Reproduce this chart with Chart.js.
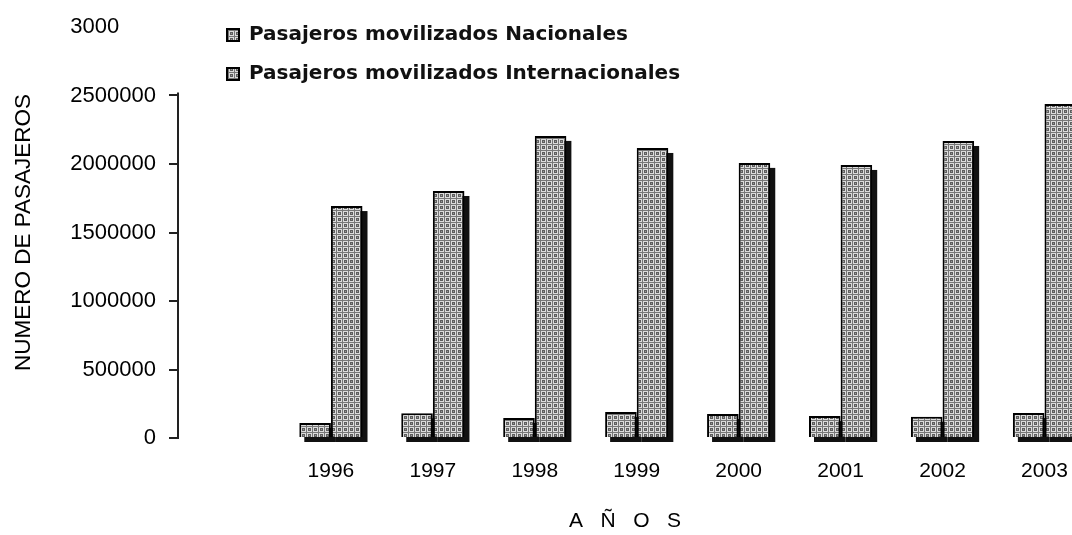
<!DOCTYPE html>
<html><head><meta charset="utf-8">
<script src="https://cdn.jsdelivr.net/npm/chart.js@4.4.0/dist/chart.umd.min.js"></script>
<style>html,body{margin:0;padding:0;background:#fff;} #wrap{width:1072px;height:535px;position:relative;}</style>
</head><body><div id="wrap"><canvas id="c"></canvas></div>
<script>
const categories = ['1996','1997','1998','1999','2000','2001','2002','2003'];
const nacionales = [110000, 180000, 146000, 190000, 175000, 160000, 155000, 182000];
const internacionales = [1693000, 1803000, 2205000, 2117000, 2008000, 1993000, 2168000, 2438000];
const yTicks = [0, 500000, 1000000, 1500000, 2000000, 2500000, 3000000];
const seriesNames = ['Pasajeros movilizados Nacionales', 'Pasajeros movilizados Internacionales'];
const yTitle = 'NUMERO DE PASAJEROS';
const xTitle = 'A   Ñ   O   S';

const canvas = document.getElementById('c');
const ctx0 = canvas.getContext('2d');
function makePattern() {
  const t = document.createElement('canvas'); t.width = 6; t.height = 6;
  const g = t.getContext('2d');
  g.fillStyle = '#777777'; g.fillRect(0, 0, 6, 6);
  g.fillStyle = '#dcdcdc'; g.fillRect(1, 1, 5, 5);
  g.fillStyle = '#5e5e5e'; g.fillRect(2, 2, 3, 3);
  g.fillStyle = '#9a9a9a'; g.fillRect(3, 3, 1, 1);
  return ctx0.createPattern(t, 'repeat');
}
const pat = makePattern();

const barShadow = {
  id: 'barShadow',
  beforeDatasetsDraw(chart) {
    const ctx = chart.ctx; ctx.save(); ctx.fillStyle = '#111';
    chart.data.datasets.forEach((ds, i) => {
      chart.getDatasetMeta(i).data.forEach(el => {
        const p = el.getProps(['x', 'y', 'base', 'width'], true);
        ctx.fillRect(p.x - p.width / 2 + 5, p.y + 5, p.width, p.base - p.y);
      });
    });
    ctx.restore();
  }
};
const yAxisLine = {
  id: 'yAxisLine',
  afterDatasetsDraw(chart) {
    const s = chart.scales.y, ctx = chart.ctx;
    ctx.save(); ctx.strokeStyle = '#222'; ctx.lineWidth = 2;
    ctx.beginPath();
    ctx.moveTo(chart.chartArea.left, s.getPixelForValue(0) + 1);
    ctx.lineTo(chart.chartArea.left, s.getPixelForValue(2500000) - 3);
    ctx.stroke(); ctx.restore();
  }
};
const legendShift = {
  id: 'legendShift',
  afterLayout(chart) {
    const lg = chart.legend; if (!lg) return;
    const ca = chart.chartArea;
    lg.left = ca.left + 30; lg.right = ca.right;
    lg.top = ca.top - 21;
  }
};

new Chart(canvas, {
  type: 'bar',
  data: {
    datasets: [
      { label: seriesNames[0], data: categories.map((c, i) => ({x: Number(c), y: nacionales[i]})),
        backgroundColor: pat, borderColor: '#000', borderWidth: 2, categoryPercentage: 0.62, barPercentage: 1.0 },
      { label: seriesNames[1], data: categories.map((c, i) => ({x: Number(c), y: internacionales[i]})),
        backgroundColor: pat, borderColor: '#000', borderWidth: 2, categoryPercentage: 0.62, barPercentage: 1.0 }
    ]
  },
  options: {
    responsive: true, maintainAspectRatio: false, animation: false,
    layout: { padding: { top: 27, left: 0, right: 0, bottom: 0 } },
    plugins: {
      tooltip: { enabled: false },
      legend: {
        position: 'chartArea', align: 'start',
        labels: { font: { family: 'DejaVu Sans', weight: 'bold', size: 20 }, color: '#111',
                  boxWidth: 12, boxHeight: 12, padding: 19 }
      }
    },
    scales: {
      x: {
        type: 'linear', min: 1994.5, max: 2003.27, offset: false,
        afterBuildTicks: s => { s.ticks = categories.map(c => ({ value: Number(c) })); },
        afterFit: s => { s.height = 97; s.paddingLeft = 0; s.paddingRight = 0; },
        grid: { display: false }, border: { display: false },
        ticks: { font: { family: 'Liberation Sans', size: 21 }, color: '#000', padding: 13,
                 maxRotation: 0, autoSkip: false, callback: v => String(v) },
        title: { display: true, text: xTitle, font: { family: 'Liberation Sans', size: 21 }, color: '#000',
                 padding: { top: 0, bottom: 1 } }
      },
      y: {
        min: 0, max: 3000000,
        afterBuildTicks: s => { s.ticks = yTicks.map(v => ({ value: v })); },
        afterFit: s => { s.width = 178; s.paddingTop = 0; s.paddingBottom = 0; },
        border: { display: false },
        grid: { drawOnChartArea: false, tickLength: 9, lineWidth: 2,
                color: c => (c.tick && c.tick.value === 3000000) ? 'rgba(0,0,0,0)' : '#222' },
        ticks: { font: { family: 'Liberation Sans', size: 22 }, color: '#000', padding: 13,
                 callback: v => v === 3000000 ? '3000\u2007\u2007\u2007' : String(v) },
        title: { display: true, text: yTitle, font: { family: 'Liberation Sans', size: 22.5 }, color: '#000',
                 padding: { top: 10, bottom: 0 } }
      }
    }
  },
  plugins: [barShadow, yAxisLine, legendShift]
});
</script></body></html>
